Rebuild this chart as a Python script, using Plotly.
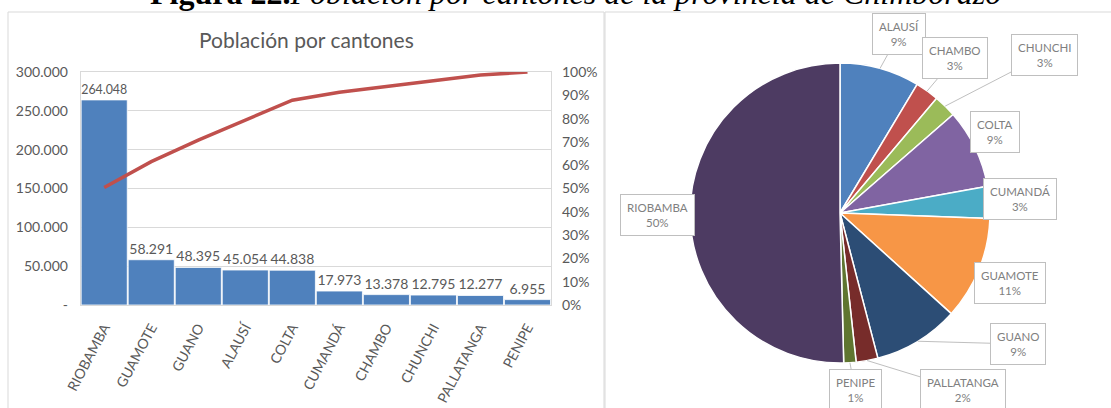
import numpy as np
import plotly.graph_objects as go

# Población por cantón (orden de Pareto)
cantones = ["RIOBAMBA", "GUAMOTE", "GUANO", "ALAUSÍ", "COLTA",
            "CUMANDÁ", "CHAMBO", "CHUNCHI", "PALLATANGA", "PENIPE"]
poblacion = [264048, 58291, 48395, 45054, 44838, 17973, 13378, 12795, 12277, 6955]

# Ejes del diagrama de Pareto
y_tick_vals = [0, 50000, 100000, 150000, 200000, 250000, 300000]
y_tick_text = ["-", "50.000", "100.000", "150.000", "200.000", "250.000", "300.000"]

# Gráfico circular (orden alfabético) y etiquetas de porcentaje
cantones_pie = ["ALAUSÍ", "CHAMBO", "CHUNCHI", "COLTA", "CUMANDÁ",
                "GUAMOTE", "GUANO", "PALLATANGA", "PENIPE", "RIOBAMBA"]
pie_pct = ["9%", "3%", "3%", "9%", "3%", "11%", "9%", "2%", "1%", "50%"]
pie_colors = ["#4F81BD", "#C0504D", "#9BBB59", "#8064A2", "#4BACC6",
              "#F79646", "#2C4D75", "#772C2A", "#5F7530", "#4D3B62"]

W, H = 1111, 408
FONT = "Lato"
GRAY = "#595959"

pob_by_canton = dict(zip(cantones, poblacion))
pie_values = [pob_by_canton[c] for c in cantones_pie]
acumulado = np.cumsum(poblacion) / np.sum(poblacion)


def px_x(x):
    return x / W


def px_y(y):
    return 1 - y / H


fig = go.Figure()

fig.add_trace(go.Bar(
    x=cantones, y=poblacion,
    marker=dict(color="#4F81BD", line=dict(color="white", width=0.8)),
    texttemplate="%{y:,.0f}", textposition="outside",
    textfont=dict(family=FONT, size=14, color=GRAY),
    cliponaxis=False, showlegend=False,
    xaxis="x", yaxis="y",
))

fig.add_trace(go.Scatter(
    x=cantones, y=acumulado, mode="lines",
    line=dict(color="#C0504D", width=3.5),
    showlegend=False, xaxis="x", yaxis="y2",
))

# Pie geometry (pixels)
cx, cy, r = 840, 213, 150
fig.add_trace(go.Pie(
    labels=cantones_pie, values=pie_values,
    marker=dict(colors=pie_colors, line=dict(color="white", width=1.5)),
    sort=False, direction="clockwise", rotation=0,
    textinfo="none", hoverinfo="label+percent", showlegend=False,
    automargin=False,
    domain=dict(x=[px_x(cx - r), px_x(cx + r)], y=[px_y(cy + r), px_y(cy - r)]),
))

# Callout boxes for the pie (box centres in pixels)
box_pos = {
    "ALAUSÍ": (899, 34), "CHAMBO": (955, 58), "CHUNCHI": (1044, 55),
    "COLTA": (995, 132), "CUMANDÁ": (1020, 199), "GUAMOTE": (1010, 283),
    "GUANO": (1018, 344), "PALLATANGA": (963, 390), "PENIPE": (855, 390),
    "RIOBAMBA": (657, 215),
}
total = float(np.sum(pie_values))
cum = 0.0
annotations = []
for name, val, pct in zip(cantones_pie, pie_values, pie_pct):
    t = 2 * np.pi * (cum + val / 2) / total
    cum += val
    tx = cx + r * np.sin(t)
    ty = cy - r * np.cos(t)
    bx, by = box_pos[name]
    annotations.append(dict(
        x=px_x(tx), y=px_y(ty), xref="paper", yref="paper",
        text=f"{name}<br>{pct}", showarrow=True, arrowhead=0,
        arrowwidth=1, arrowcolor="#BFBFBF", ax=bx - tx, ay=by - ty,
        bgcolor="white", bordercolor="#BFBFBF", borderwidth=1, borderpad=6,
        font=dict(family=FONT, size=11.5, color="#808080"),
    ))

annotations.append(dict(
    x=px_x(306), y=px_y(39), xref="paper", yref="paper",
    text="Población por cantones", showarrow=False,
    font=dict(family=FONT, size=21, color=GRAY),
    xanchor="center", yanchor="middle",
))
annotations.append(dict(
    x=px_x(575), y=px_y(13), xref="paper", yref="paper",
    text="<b>Figura 22.</b><i>Población por cantones de la provincia de Chimborazo</i>",
    showarrow=False, font=dict(family="Liberation Serif", size=32, color="black"),
    xanchor="center", yanchor="bottom",
))

shapes = [
    dict(type="rect", xref="paper", yref="paper",
         x0=px_x(8), x1=px_x(604), y0=px_y(412), y1=px_y(12),
         line=dict(color="#D9D9D9", width=1), fillcolor="rgba(0,0,0,0)", layer="below"),
    dict(type="rect", xref="paper", yref="paper",
         x0=px_x(605), x1=px_x(1116), y0=px_y(412), y1=px_y(12),
         line=dict(color="#D9D9D9", width=1), fillcolor="rgba(0,0,0,0)", layer="below"),
]

fig.update_layout(
    width=W, height=H, margin=dict(l=0, r=0, t=0, b=0, autoexpand=False),
    paper_bgcolor="white", plot_bgcolor="white",
    separators=",.", bargap=0.02,
    font=dict(family=FONT, color=GRAY),
    xaxis=dict(
        domain=[px_x(80.7), px_x(551)], tickangle=-62, automargin=False,
        tickfont=dict(family=FONT, size=14, color=GRAY),
        showline=True, linecolor="#D9D9D9", mirror=True,
        ticks="", ticklabelstandoff=8, showgrid=False,
    ),
    yaxis=dict(
        domain=[px_y(305), px_y(72)], range=[0, 300000], automargin=False,
        tickvals=y_tick_vals, ticktext=y_tick_text,
        tickfont=dict(family=FONT, size=14, color=GRAY),
        showgrid=True, gridcolor="#D9D9D9", gridwidth=1,
        showline=True, linecolor="#D9D9D9", mirror=True,
        zeroline=False, ticks="", ticklabelstandoff=9,
    ),
    yaxis2=dict(
        overlaying="y", side="right", range=[0, 1], automargin=False,
        tickvals=[i / 10 for i in range(11)], tickformat=".0%",
        tickfont=dict(family=FONT, size=14, color=GRAY),
        showgrid=False, zeroline=False, ticks="", ticklabelstandoff=10,
    ),
    annotations=annotations, shapes=shapes,
)

fig.write_html("out.html")
